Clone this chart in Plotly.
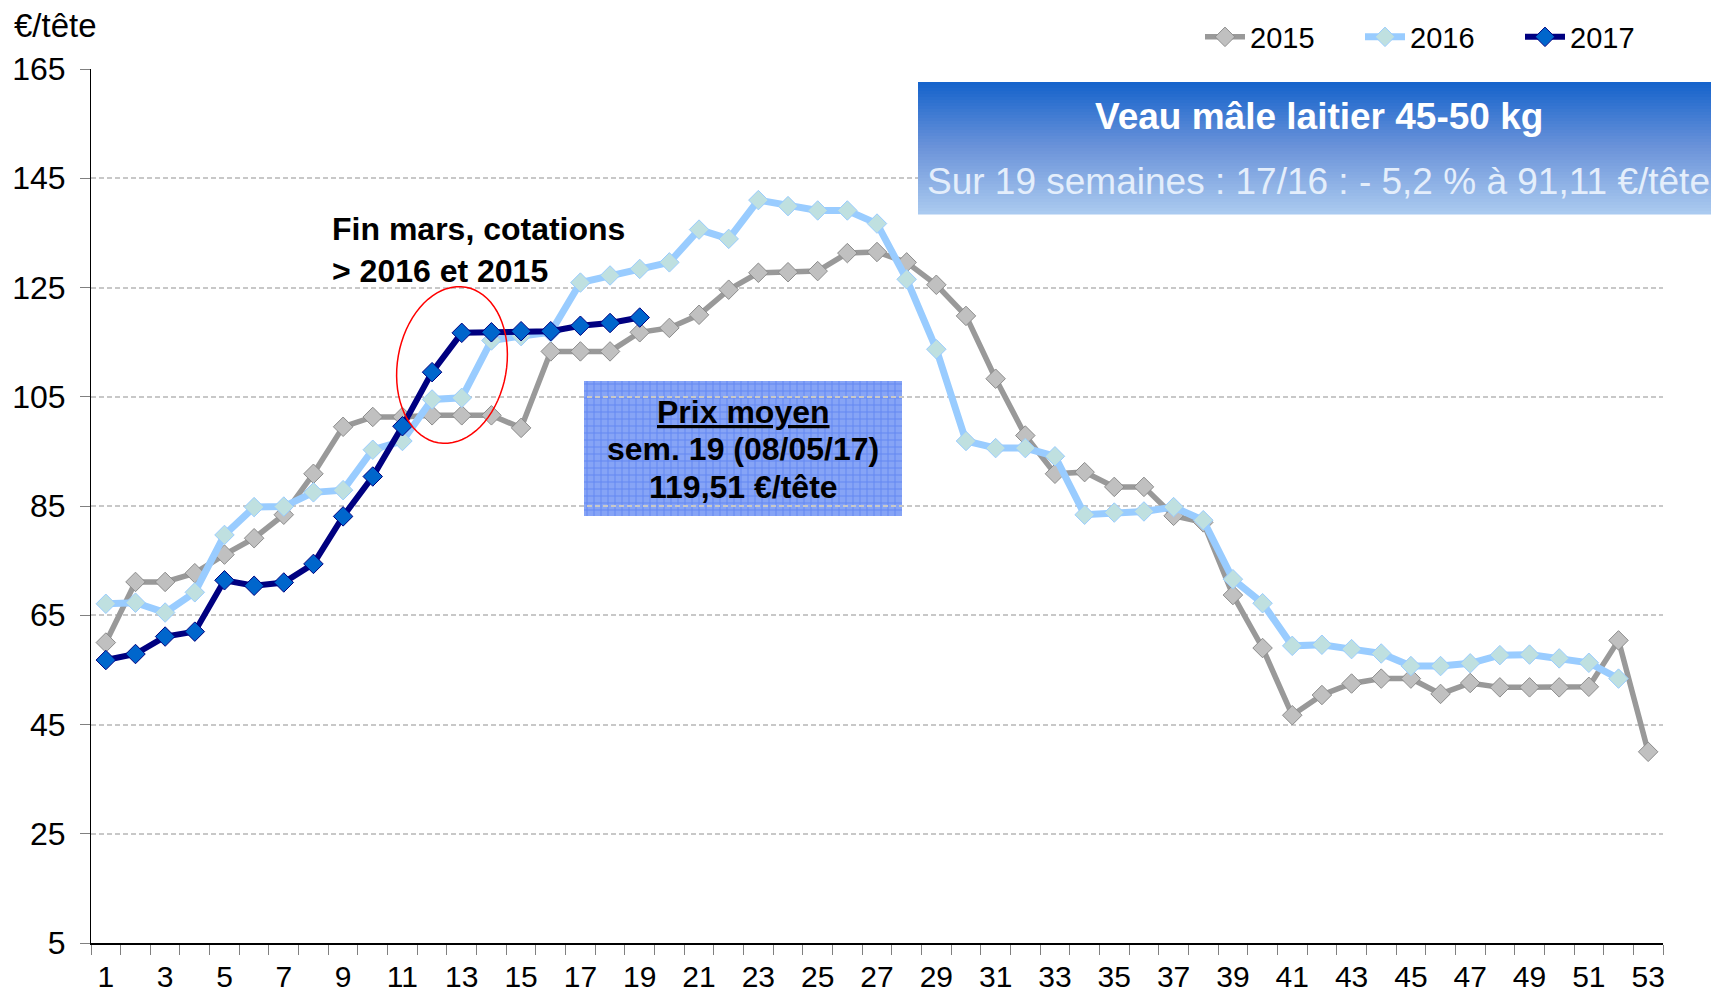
import math
import plotly.graph_objects as go

# ---------------- data ----------------
weeks = list(range(1, 54))
week_labels = [str(w) for w in range(1, 54, 2)]
week_label_pos = list(range(1, 54, 2))

v2015 = [60.0, 71.1, 71.1, 72.7, 76.1, 79.1, 83.4, 90.9, 99.5, 101.3,
         101.3, 101.6, 101.6, 101.6, 99.3, 113.3, 113.3, 113.3, 116.8, 117.6,
         120.0, 124.6, 127.7, 127.8, 128.0, 131.3, 131.5, 129.6, 125.5, 119.8,
         108.3, 97.9, 90.9, 91.2, 88.5, 88.5, 83.2, 82.0, 68.7, 59.0,
         46.7, 50.4, 52.5, 53.4, 53.4, 50.6, 52.6, 51.8, 51.8, 51.8,
         51.9, 60.4, 40.0]
v2016 = [67.1, 67.3, 65.5, 69.2, 79.7, 84.8, 84.9, 87.5, 87.9, 95.3,
         96.9, 104.5, 104.8, 115.3, 116.1, 116.8, 125.9, 127.2, 128.4, 129.6,
         135.6, 133.9, 141.0, 139.9, 139.1, 139.1, 136.7, 126.5, 113.7, 96.9,
         95.6, 95.6, 94.1, 83.4, 83.8, 84.0, 84.8, 82.4, 71.6, 67.2,
         59.4, 59.6, 58.8, 58.0, 55.7, 55.7, 56.2, 57.7, 57.8, 57.1,
         56.3, 53.4]
v2017 = [56.8, 57.9, 61.1, 62.0, 71.4, 70.4, 71.0, 74.4, 83.1, 90.4,
         99.6, 109.5, 116.7, 116.8, 117.0, 117.0, 118.0, 118.5, 119.5]

y_ticks = list(range(5, 166, 20))

title_text = "Veau mâle laitier 45-50 kg"
subtitle_text = "Sur 19 semaines : 17/16 : - 5,2 % à 91,11 €/tête"
note_text = "Fin mars, cotations<br>> 2016 et 2015"
price_lines = ["<u>Prix moyen</u>", "sem. 19 (08/05/17)", "119,51 €/tête"]

# ---------------- layout geometry ----------------
# The page body has an 8px margin, so the figure is sized to fit the window.
OFF = 8
W, H = 1719 - OFF, 996 - OFF
ML, MR, MT, MB = 83, 56, 61, 53
PW, PH = W - ML - MR, H - MT - MB


def px(x_page):
    return (x_page - OFF - ML) / PW


def py(y_page):
    return (H - MB - (y_page - OFF)) / PH


FONT = "Liberation Sans, Arial, sans-serif"

fig = go.Figure()

fig.add_trace(go.Scatter(
    x=weeks, y=v2015, name="2015", mode="lines+markers",
    line=dict(color="#999999", width=5.5),
    marker=dict(symbol="diamond", size=15, color="#c0c0c0",
                line=dict(color="#8c8c8c", width=1)),
))
fig.add_trace(go.Scatter(
    x=weeks[:len(v2016)], y=v2016, name="2016", mode="lines+markers",
    line=dict(color="#99ccff", width=7),
    marker=dict(symbol="diamond", size=15, color="#bfe0e0",
                line=dict(color="#99ccff", width=1)),
))
fig.add_trace(go.Scatter(
    x=weeks[:len(v2017)], y=v2017, name="2017", mode="lines+markers",
    line=dict(color="#000080", width=6),
    marker=dict(symbol="diamond", size=15, color="#0066cc",
                line=dict(color="#000080", width=1)),
))

shapes = []

# Gradient title box (strips)
bx0, bx1, by0, by1 = 918, 1719, 82, 214
top = (22, 100, 204)
mid = (108, 148, 218)
bot = (170, 202, 240)
n = 44
for i in range(n):
    t = i / (n - 1)
    if t < 0.5:
        c = [a + (b - a) * (t / 0.5) for a, b in zip(top, mid)]
    else:
        c = [a + (b - a) * ((t - 0.5) / 0.5) for a, b in zip(mid, bot)]
    y0 = by0 + (by1 - by0) * i / n
    y1 = by0 + (by1 - by0) * (i + 1) / n + 0.6
    shapes.append(dict(type="rect", xref="paper", yref="paper",
                       x0=px(bx0), x1=px(bx1), y0=py(y0), y1=py(y1),
                       fillcolor="rgb(%d,%d,%d)" % tuple(int(v) for v in c),
                       line=dict(width=0), layer="above"))

# Prix moyen box with grid pattern
qx0, qx1, qy0, qy1 = 584, 902, 381, 516
shapes.append(dict(type="rect", xref="paper", yref="paper",
                   x0=px(qx0), x1=px(qx1), y0=py(qy1), y1=py(qy0),
                   fillcolor="#86a4f6", line=dict(width=0), layer="below"))
step = 7
xg = qx0 + 3
while xg < qx1:
    shapes.append(dict(type="line", xref="paper", yref="paper",
                       x0=px(xg), x1=px(xg), y0=py(qy1), y1=py(qy0),
                       line=dict(color="#6588f2", width=1), layer="below"))
    xg += step
yg = qy0 + 3
while yg < qy1:
    shapes.append(dict(type="line", xref="paper", yref="paper",
                       x0=px(qx0), x1=px(qx1), y0=py(yg), y1=py(yg),
                       line=dict(color="#6588f2", width=1), layer="below"))
    yg += step

# Red tilted ellipse
cx, cy, a, b, th = 452, 365, 79, 54.5, math.radians(10)
pts = []
for k in range(73):
    t = 2 * math.pi * k / 72
    ex = b * math.cos(t)
    ey = a * math.sin(t)
    rx = ex * math.cos(th) + ey * math.sin(th)
    ry = -ex * math.sin(th) + ey * math.cos(th)
    pts.append((px(cx + rx), py(cy - ry)))
path = "M " + " L ".join("%.5f,%.5f" % p for p in pts) + " Z"
shapes.append(dict(type="path", xref="paper", yref="paper", path=path,
                   line=dict(color="#ff0000", width=1.5), layer="above"))

annotations = [
    dict(text="€/tête", xref="paper", yref="paper", x=px(12), y=py(26),
         xanchor="left", yanchor="middle", showarrow=False,
         font=dict(family=FONT, size=33, color="#000000")),
    dict(text="<b>" + title_text + "</b>", xref="paper", yref="paper",
         x=px((bx0 + bx1) / 2), y=py(116), xanchor="center", yanchor="middle",
         showarrow=False, font=dict(family=FONT, size=37, color="#ffffff")),
    dict(text=subtitle_text, xref="paper", yref="paper",
         x=px((bx0 + bx1) / 2), y=py(182), xanchor="center", yanchor="middle",
         showarrow=False, font=dict(family=FONT, size=37, color="#e4eefb")),
    dict(text="<b>" + note_text + "</b>", xref="paper", yref="paper",
         x=px(330), y=py(250), xanchor="left", yanchor="middle", align="left",
         showarrow=False, font=dict(family=FONT, size=32, color="#000000")),
]
for i, line_txt in enumerate(price_lines):
    annotations.append(dict(text="<b>" + line_txt + "</b>", xref="paper", yref="paper",
                            x=px((qx0 + qx1) / 2), y=py(412 + 37.5 * i),
                            xanchor="center", yanchor="middle", showarrow=False,
                            font=dict(family=FONT, size=32, color="#000000")))

fig.update_layout(
    template="none",
    width=W, height=H,
    margin=dict(l=ML, r=MR, t=MT, b=MB, autoexpand=False),
    paper_bgcolor="#ffffff", plot_bgcolor="#ffffff",
    font=dict(family=FONT, size=30, color="#000000"),
    showlegend=True,
    legend=dict(orientation="h", x=px(1200), xanchor="left", y=py(37),
                yanchor="middle", font=dict(family=FONT, size=29),
                bgcolor="rgba(0,0,0,0)", traceorder="normal", itemwidth=40,
                entrywidth=105, entrywidthmode="pixels"),
    shapes=shapes,
    annotations=annotations,
    hovermode=False,
)

fig.update_xaxes(
    range=[0.5, 53.5], tickmode="array", tickvals=week_label_pos, ticktext=week_labels,
    ticks="", showgrid=False, zeroline=False, automargin=False,
    showline=True, linecolor="#000000", linewidth=2,
    tickfont=dict(family=FONT, size=30, color="#000000"),
    ticklabelstandoff=6,
    minor=dict(tick0=0.5, dtick=1, ticks="outside", ticklen=10,
               tickcolor="#808080", tickwidth=1, showgrid=False),
)
fig.update_yaxes(
    range=[5, 165], tickmode="array", tickvals=y_ticks,
    ticks="outside", ticklen=10, tickcolor="#808080", tickwidth=1,
    showgrid=True, gridcolor="#c8c8c8", gridwidth=2, griddash="5px,3px",
    zeroline=False, showline=True, linecolor="#000000", linewidth=1,
    automargin=False,
    tickfont=dict(family=FONT, size=32, color="#000000"),
    ticklabelstandoff=8,
)

fig.write_html("out.html")
